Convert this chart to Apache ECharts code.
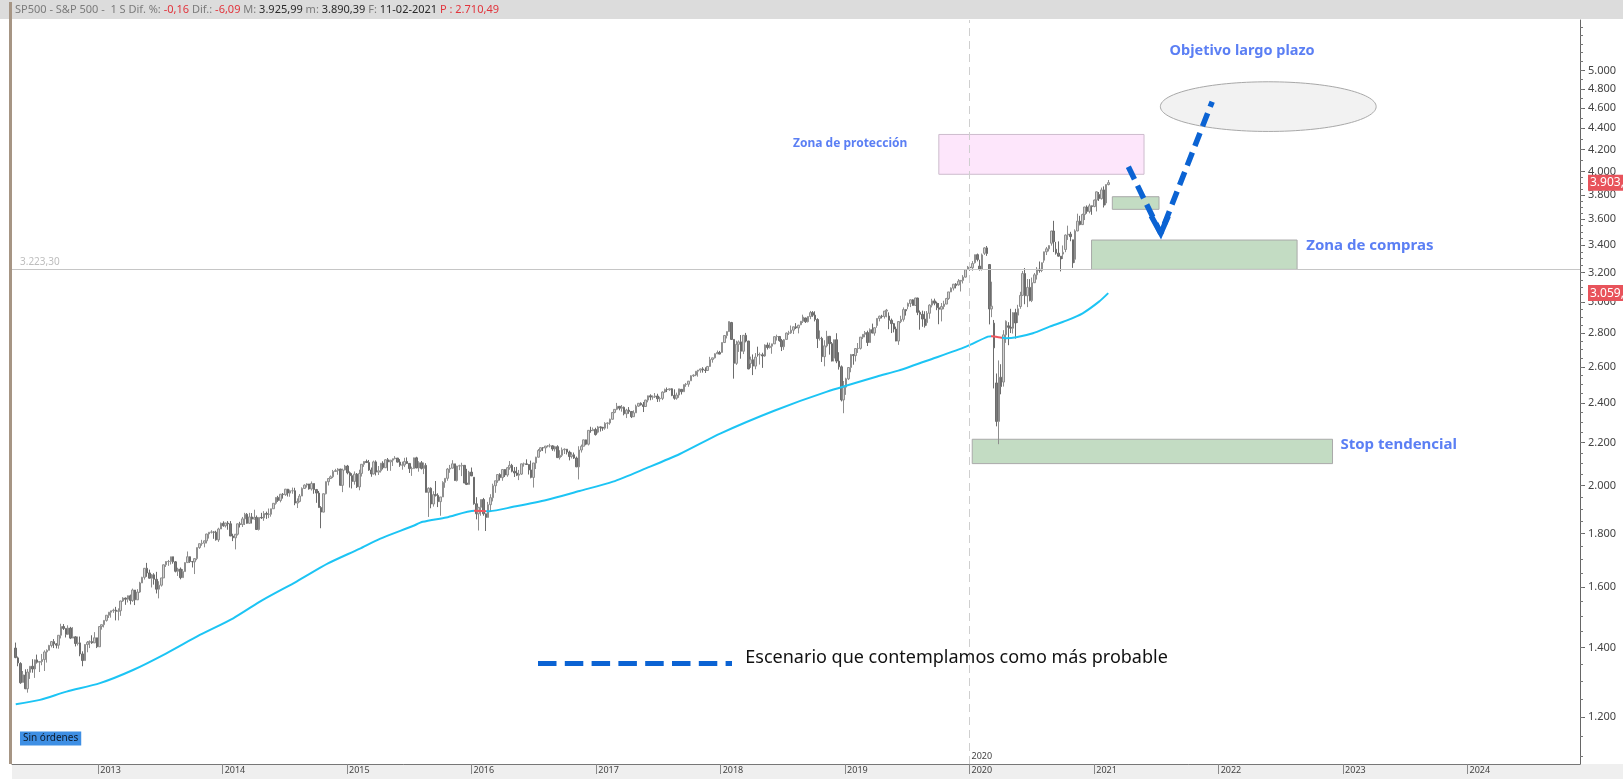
<!DOCTYPE html>
<html>
<head>
<meta charset="utf-8">
<title>SP500 - S&amp;P 500 semanal</title>
<script src="https://cdn.jsdelivr.net/npm/echarts@6/dist/echarts.min.js"></script>
<style>
  html, body { margin: 0; padding: 0; background: #fff; }
  #chart { width: 1623px; height: 779px; }
</style>
</head>
<body>
<div id="chart"></div>
<script>
// velas semanales (1 S), primera vela = semana que cierra el 2012-05-04
const firstWeek = '2012-05-04'

const opens = [
  1398,1368,1351,1296,1317,1278,1325,1343,1335,1362,1355,1357,1363,1386,1391,1406,1418,1411,1407,1438,1466,1460,1441,1461,1429,1433,1412,1414,1380,1360,1409,1416,1418,1414,1430,
  1402,1466,1472,1486,1503,1513,1518,1520,1516,1518,1551,1561,1557,1569,1553,1589,1555,1582,1614,1634,1667,1650,1631,1643,1627,1592,1606,1632,1680,1692,1692,1710,1691,1656,1664,1633,1655,1688,1710,1692,1691,1703,1745,1760,1762,1771,1798,1805,1806,1805,1775,1818,
  1841,1831,1842,1839,1790,1783,1797,1839,1836,1859,1878,1841,1867,1858,1865,1816,1865,1863,1881,1878,1878,1901,1924,1949,1936,1963,1961,1985,1968,1978,1978,1925,1932,1955,1988,2003,2008,1986,2010,1983,1968,1906,1887,1965,2018,2032,2040,2064,2068,2075,2002,2071,
  2089,2058,2045,2019,2052,1995,2055,2097,2110,2105,2071,2053,2108,2061,2067,2102,2081,2118,2108,2116,2123,2126,2107,2093,2094,2110,2101,2077,2077,2127,2080,2104,2078,2092,1971,1989,1921,1961,1958,1931,1951,2015,2033,2075,2079,2099,2023,2089,2090,2092,2012,2006,2061,
  2038,1922,1880,1907,1940,1880,1865,1918,1948,2000,2022,2050,2036,2073,2048,2081,2092,2065,2057,2047,2052,2099,2099,2096,2071,2037,2103,2130,2162,2175,2174,2183,2184,2184,2169,2180,2128,2139,2165,2168,2154,2133,2141,2126,2085,2164,2182,2213,2192,2260,2258,2264,
  2251,2277,2275,2271,2295,2297,2316,2351,2367,2383,2373,2378,2344,2363,2356,2329,2349,2384,2399,2391,2382,2416,2439,2432,2433,2438,2423,2425,2459,2473,2472,2477,2441,2426,2443,2474,2461,2500,2502,2521,2549,2553,2575,2581,2588,2582,2579,2602,2642,2652,2676,2683,
  2684,2743,2786,2810,2867,2762,2620,2732,2747,2691,2787,2752,2619,2641,2604,2671,2670,2670,2663,2728,2713,2721,2735,2779,2780,2755,2718,2762,2801,2802,2819,2840,2833,2853,2875,2896,2872,2905,2930,2914,2886,2767,2768,2659,2723,2781,2736,2650,2760,2633,2600,2417,
  2486,2532,2596,2671,2665,2707,2708,2776,2793,2804,2743,2822,2801,2848,2893,2907,2905,2940,2908,2881,2860,2826,2752,2873,2887,2950,2971,2990,3014,2977,3026,2932,2919,2889,2866,2926,2979,3007,2992,2962,2952,2970,2986,3023,3067,3093,3120,3115,3141,3146,3169,3226,
  3240,3235,3271,3330,3247,3226,3340,3380,3258,2954,2863,2509,2305,2541,2514,2790,2846,2837,2831,2930,2914,2970,3044,3194,3041,3098,3009,3130,3185,3225,3216,3289,3351,3373,3415,3508,3370,3341,3319,3334,3368,3477,3484,3441,3296,3509,3585,3558,3638,3699,3663,3709,3703,
  3756,3803,3768,3841,3732,3887
]
const highs = [
  1415,1372,1355,1329,1334,1335,1343,1364,1363,1378,1357,1380,1391,1394,1408,1420,1426,1413,1438,1475,1474,1460,1470,1465,1464,1435,1434,1434,1388,1410,1420,1422,1438,1448,1430,
  1467,1472,1486,1503,1514,1518,1525,1531,1526,1552,1564,1563,1570,1573,1594,1589,1592,1618,1636,1668,1687,1662,1646,1649,1654,1620,1632,1681,1693,1698,1710,1710,1694,1669,1670,1664,1689,1730,1711,1693,1704,1745,1760,1775,1772,1799,1805,1813,1809,1811,1823,1844,
  1849,1843,1850,1850,1799,1798,1840,1847,1867,1884,1883,1884,1883,1897,1873,1865,1884,1891,1889,1902,1901,1924,1950,1956,1964,1968,1986,1986,1983,1992,1991,1945,1964,1993,2006,2011,2008,2019,2010,1986,1977,1912,1966,2019,2034,2046,2071,2076,2079,2076,2077,2094,
  2094,2064,2056,2064,2057,2072,2097,2111,2119,2117,2082,2114,2115,2089,2103,2111,2120,2126,2117,2123,2135,2126,2121,2109,2127,2129,2101,2086,2128,2132,2111,2112,2105,2102,1993,1993,1976,2021,1967,1951,2020,2034,2080,2094,2116,2099,2090,2095,2104,2093,2076,2067,2082,
  2038,1950,1908,1940,1947,1881,1930,1963,2009,2022,2052,2056,2073,2075,2084,2112,2099,2084,2085,2071,2100,2105,2120,2096,2114,2103,2132,2169,2176,2178,2183,2188,2194,2187,2184,2187,2163,2176,2172,2169,2161,2153,2152,2133,2182,2190,2214,2214,2260,2278,2274,2273,
  2282,2279,2277,2301,2300,2319,2352,2368,2401,2383,2390,2382,2370,2379,2358,2362,2392,2400,2404,2406,2418,2440,2447,2441,2454,2450,2434,2463,2478,2484,2478,2480,2474,2456,2477,2474,2500,2509,2520,2552,2557,2575,2582,2589,2598,2597,2605,2658,2652,2679,2695,2693,
  2744,2787,2811,2873,2871,2764,2754,2756,2789,2787,2802,2753,2659,2672,2680,2718,2683,2682,2732,2743,2742,2736,2780,2791,2780,2765,2764,2804,2815,2848,2841,2863,2852,2876,2917,2898,2906,2941,2940,2939,2894,2817,2778,2757,2815,2782,2746,2761,2800,2685,2608,2520,
  2538,2598,2675,2674,2709,2740,2776,2795,2814,2816,2830,2860,2836,2894,2911,2916,2940,2954,2932,2892,2864,2841,2876,2910,2964,2951,2996,3017,3018,3028,3028,2944,2943,2939,2940,2985,3021,3022,3002,2993,2993,3008,3027,3067,3098,3121,3127,3155,3146,3183,3226,3248,
  3247,3283,3330,3338,3293,3338,3385,3394,3259,3137,2883,2562,2637,2615,2819,2880,2869,2955,2933,2955,2981,3068,3212,3233,3156,3155,3166,3198,3240,3280,3273,3352,3387,3399,3510,3588,3425,3429,3320,3398,3482,3550,3502,3441,3521,3645,3628,3645,3700,3712,3726,3711,3760,
  3827,3823,3861,3871,3887,3926
]
const lows = [
  1367,1343,1292,1296,1277,1267,1306,1324,1309,1351,1326,1346,1329,1354,1391,1400,1398,1397,1396,1428,1455,1431,1439,1426,1429,1403,1406,1373,1343,1360,1385,1398,1411,1414,1398,
  1402,1456,1463,1482,1494,1495,1511,1486,1486,1501,1548,1538,1546,1539,1548,1537,1555,1579,1614,1626,1636,1630,1598,1608,1577,1560,1601,1632,1672,1676,1681,1684,1652,1639,1627,1633,1655,1688,1687,1670,1646,1697,1740,1752,1746,1761,1780,1800,1779,1772,1767,1818,
  1827,1824,1815,1790,1770,1738,1792,1824,1826,1834,1839,1840,1840,1857,1814,1812,1859,1851,1859,1862,1868,1901,1918,1930,1928,1944,1956,1953,1952,1965,1916,1904,1928,1955,1988,1992,1983,1979,1965,1926,1906,1821,1886,1962,2001,2030,2034,2064,2049,2002,1972,2069,
  2051,1992,1988,2005,1990,1980,2041,2085,2103,2067,2040,2050,2046,2048,2059,2073,2080,2067,2067,2089,2120,2105,2085,2072,2084,2099,2057,2044,2077,2079,2063,2073,2052,1971,1867,1903,1910,1953,1908,1872,1951,1991,2022,2058,2077,2022,2019,2070,2043,2012,2003,2005,2043,
  1918,1857,1812,1872,1872,1810,1865,1891,1932,1969,2013,2023,2022,2039,2040,2072,2060,2039,2043,2025,2048,2086,2095,2050,2033,1992,2075,2128,2155,2159,2148,2177,2176,2160,2157,2128,2119,2131,2145,2143,2115,2124,2122,2084,2028,2152,2182,2187,2186,2248,2258,2234,
  2245,2254,2258,2263,2268,2288,2314,2347,2363,2362,2355,2336,2322,2344,2322,2328,2349,2380,2387,2353,2382,2404,2415,2418,2427,2406,2407,2416,2455,2459,2466,2437,2418,2418,2428,2446,2461,2488,2488,2521,2542,2547,2544,2566,2567,2565,2576,2600,2624,2648,2676,2673,
  2683,2740,2768,2808,2759,2533,2611,2687,2647,2674,2744,2586,2594,2553,2586,2659,2613,2594,2658,2701,2707,2676,2734,2755,2748,2692,2699,2762,2789,2796,2795,2826,2799,2850,2864,2864,2867,2888,2903,2874,2710,2755,2628,2603,2714,2671,2631,2631,2621,2584,2409,2347,
  2444,2525,2569,2612,2631,2681,2701,2764,2775,2722,2743,2800,2785,2834,2874,2893,2892,2900,2825,2801,2805,2751,2729,2863,2873,2911,2952,2966,2976,2975,2914,2822,2840,2835,2847,2891,2964,2978,2946,2856,2874,2952,2985,3014,3066,3077,3091,3110,3070,3125,3166,3221,
  3214,3214,3265,3281,3215,3215,3328,3321,2855,2901,2479,2280,2192,2447,2489,2741,2727,2801,2798,2767,2864,2955,3039,2985,2966,3004,2999,3128,3152,3200,3204,3271,3327,3354,3397,3349,3330,3316,3209,3298,3348,3440,3430,3234,3270,3506,3552,3555,3594,3645,3648,3636,3697,
  3663,3749,3760,3695,3714,3880
]
const closes = [
  1369,1353,1295,1318,1278,1326,1343,1335,1362,1355,1357,1363,1386,1391,1406,1418,1411,1407,1438,1466,1460,1441,1461,1429,1433,1412,1414,1380,1360,1409,1416,1418,1414,1430,1402,
  1466,1472,1486,1503,1513,1518,1520,1516,1518,1551,1561,1557,1569,1553,1589,1555,1582,1614,1634,1667,1650,1631,1643,1627,1592,1606,1632,1680,1692,1692,1710,1691,1656,1664,1633,1655,1688,1710,1692,1691,1703,1745,1760,1762,1771,1798,1805,1806,1805,1775,1818,1841,
  1831,1842,1839,1790,1783,1797,1839,1836,1859,1878,1841,1867,1858,1865,1816,1865,1863,1881,1878,1878,1901,1924,1949,1936,1963,1961,1985,1968,1978,1978,1925,1932,1955,1988,2003,2008,1986,2010,1983,1968,1906,1887,1965,2018,2032,2040,2064,2068,2075,2002,2071,2089,
  2058,2045,2019,2052,1995,2055,2097,2110,2105,2071,2053,2108,2061,2067,2102,2081,2118,2108,2116,2123,2126,2107,2093,2094,2110,2101,2077,2077,2127,2080,2104,2078,2092,1971,1989,1921,1961,1958,1931,1951,2015,2033,2075,2079,2099,2023,2089,2090,2092,2012,2006,2061,2044,
  1922,1880,1907,1940,1880,1865,1918,1948,2000,2022,2050,2036,2073,2048,2081,2092,2065,2057,2047,2052,2099,2099,2096,2071,2037,2103,2130,2162,2175,2174,2183,2184,2184,2169,2180,2128,2139,2165,2168,2154,2133,2141,2126,2085,2164,2182,2213,2192,2260,2258,2264,2239,
  2277,2275,2271,2295,2297,2316,2351,2367,2383,2373,2378,2344,2363,2356,2329,2349,2384,2399,2391,2382,2416,2439,2432,2433,2438,2423,2425,2459,2473,2472,2477,2441,2426,2443,2477,2461,2500,2502,2519,2549,2553,2575,2581,2588,2582,2579,2602,2642,2652,2676,2683,2674,
  2743,2786,2810,2873,2762,2620,2732,2747,2691,2787,2752,2588,2641,2604,2656,2670,2670,2663,2728,2713,2721,2735,2779,2780,2755,2718,2760,2801,2802,2819,2840,2833,2850,2875,2902,2872,2905,2930,2914,2886,2767,2768,2659,2723,2781,2736,2633,2760,2633,2600,2417,2486,
  2532,2596,2671,2665,2707,2708,2776,2793,2804,2743,2822,2801,2834,2893,2907,2905,2940,2946,2881,2860,2826,2752,2873,2887,2950,2942,2990,3014,2977,3026,2932,2919,2889,2847,2926,2979,3007,2992,2962,2952,2970,2986,3023,3067,3093,3120,3110,3141,3146,3169,3221,3240,
  3235,3265,3330,3295,3226,3328,3380,3338,2954,2972,2711,2305,2541,2489,2790,2875,2837,2831,2930,2864,2955,3044,3194,3041,3098,3009,3130,3185,3225,3216,3271,3351,3373,3397,3508,3427,3341,3319,3298,3348,3477,3484,3465,3270,3509,3585,3558,3638,3699,3663,3709,3703,3756,
  3825,3768,3841,3714,3887,3903
]

// media móvil (línea celeste)
const maDates = ['2012-05-04','2012-07-14','2012-09-30','2013-01-06','2013-04-13','2013-07-20','2013-10-26','2014-02-01','2014-04-29','2014-08-07','2014-11-06','2015-02-06','2015-04-07','2015-07-13','2015-08-11','2015-10-19','2016-01-10','2016-02-23','2016-05-02','2016-08-08','2016-11-13','2017-02-19','2017-05-28','2017-09-03','2018-01-01','2018-06-07','2018-11-07','2019-04-05','2019-06-06','2019-09-11','2019-12-22','2020-02-24','2020-03-06','2020-04-04','2020-04-18','2020-05-17','2020-07-05','2020-08-23','2020-10-11','2020-11-28','2021-01-15','2021-02-11']
const maValues = [1235,1247,1270,1294,1332,1382,1439,1493,1555,1620,1685,1740,1779,1830,1847,1865,1893,1891,1909,1938,1977,2018,2079,2145,2245,2360,2460,2545,2578,2644,2718,2779,2781,2772,2769,2775,2800,2841,2879,2926,3002,3059]
// tramos en rojo de la media
const maRedFrom = ['2016-01-09', '2020-03-05']
const maRedTo = ['2016-02-12', '2020-04-04']

// zonas: protección, compras (corto), compras, stop tendencial
const zoneFrom = ['2019-10-03', '2021-02-23', '2020-12-24', '2020-01-09']
const zoneTo = ['2021-05-27', '2021-07-10', '2022-08-19', '2022-12-01']
const zoneHigh = [4341, 3784, 3439, 2216]
const zoneLow = [3976, 3680, 3223.3, 2100]

// objetivo largo plazo (elipse): esquinas de la caja que la contiene
const targetDates = ['2021-07-14', '2023-04-08']
const targetPrices = [4876, 4370]

// escenario más probable (flecha discontinua)
const scenarioDates = ['2021-04-11', '2021-07-15', '2021-12-13']
const scenarioPrices = [4043, 3490, 4667]
const arrowDates = ['2021-06-17', '2021-07-15', '2021-08-06']
const arrowPrices = [3626, 3490, 3626]

const refLevel = 3223.30
const yTicks = [1200,1400,1600,1800,2000,2200,2400,2600,2800,3000,3200,3400,3600,3800,4000,4200,4400,4600,4800,5000]
const yearTicks = ['2013-01-01','2014-01-01','2015-01-01','2016-01-01','2017-01-01','2018-01-01','2019-01-01','2020-01-01','2021-01-01','2022-01-01','2023-01-01','2024-01-01']

const FONT = '"Noto Sans", "DejaVu Sans", sans-serif'
const ts = s => new Date(s + 'T00:00:00').getTime()
const fmtEs = v => {
  const s = String(Math.round(v))
  return s.length > 3 ? s.slice(0, -3) + '.' + s.slice(-3) : s
}

const weekDates = closes.map((_, i) => {
  const d = new Date(firstWeek + 'T00:00:00')
  d.setDate(d.getDate() + 7 * i)
  return d.getTime()
})
const candles = weekDates.map((t, i) => [t, opens[i], closes[i], lows[i], highs[i]])
const maData = maDates.map((d, i) => [ts(d), maValues[i]])

const minorTicks = []
for (let v = 1100; v <= 5500; v += (v < 4000 ? 50 : 100)) minorTicks.push(v)

const lastClose = closes[closes.length - 1]
const lastMa = maValues[maValues.length - 1]

const priceTag = {
  show: true, position: 'end', distance: 8, color: '#fff', opacity: 1, fontSize: 12, fontFamily: FONT,
  backgroundColor: '#e8535b', padding: [2, 20, 2, 2]
}
const noLine = { color: 'rgba(0,0,0,0)', width: 0 }
const blueText = '#5b7ff4'

const chart = echarts.init(document.getElementById('chart'))
chart.setOption({
  animation: false,
  backgroundColor: '#fff',
  grid: { left: 12, right: 43, top: 20, bottom: 15, outerBoundsMode: 'none' },
  // eje de fechas como valor (milisegundos), etiquetas por año
  xAxis: {
    type: 'value',
    min: ts('2012-04-23'),
    max: ts('2024-11-26'),
    axisLine: { lineStyle: { color: '#777', width: 1 } },
    axisTick: { show: true, length: 10, customValues: yearTicks.map(ts), lineStyle: { color: '#888' } },
    axisLabel: {
      customValues: yearTicks.map(ts),
      formatter: v => String(new Date(v).getFullYear()),
      align: 'left', margin: 2, padding: [0, 0, 0, 2],
      color: '#444', fontSize: 9, fontFamily: FONT
    },
    splitLine: { show: false }
  },
  yAxis: [{
    type: 'log',
    position: 'right',
    min: 1082.5,
    max: 5588,
    axisLine: { show: true, lineStyle: { color: '#666' } },
    axisTick: { show: true, length: 5, customValues: yTicks, lineStyle: { color: '#666' } },
    axisLabel: { customValues: yTicks, formatter: fmtEs, color: '#444', fontSize: 11, margin: 8, fontFamily: FONT },
    splitLine: { show: false }
  }, {
    type: 'log',
    position: 'right',
    min: 1082.5,
    max: 5588,
    axisLine: { show: false },
    axisTick: { show: true, length: 3, customValues: minorTicks, lineStyle: { color: '#777' } },
    axisLabel: { show: false },
    splitLine: { show: false }
  }],
  visualMap: {
    type: 'piecewise',
    show: false,
    seriesIndex: 1,
    dimension: 0,
    pieces: maRedFrom.map((d, i) => ({ gte: ts(d), lte: ts(maRedTo[i]), color: '#f0555e' })),
    outOfRange: { color: '#1cc4f4' }
  },
  series: [
    {
      type: 'custom',
      name: 'Objetivo largo plazo',
      z: 1,
      data: targetDates.map((d, i) => [ts(d), targetPrices[i]]),
      renderItem: (params, api) => {
        if (params.dataIndexInside !== 0) return null
        const a = api.coord([api.value(0, 0), api.value(1, 0)])
        const b = api.coord([api.value(0, 1), api.value(1, 1)])
        return {
          type: 'ellipse',
          shape: { cx: (a[0] + b[0]) / 2, cy: (a[1] + b[1]) / 2, rx: Math.abs(b[0] - a[0]) / 2, ry: Math.abs(b[1] - a[1]) / 2 },
          style: { fill: '#f2f2f2', stroke: '#a8a8a8', lineWidth: 1 }
        }
      }
    },
    {
      type: 'line',
      name: 'Media',
      data: maData,
      symbol: 'none',
      smooth: 0.25,
      clip: false,
      z: 3,
      lineStyle: { width: 2 },
      markLine: {
        silent: true,
        symbol: 'none',
        data: [
          {
            yAxis: refLevel,
            lineStyle: { color: '#c6c6c6', width: 1, type: 'solid' },
            label: { show: true, position: 'insideStartTop', distance: [8, 2], formatter: '3.223,30', color: '#bdbdbd', fontSize: 10, fontFamily: FONT }
          },
          {
            xAxis: ts('2020-01-01'),
            lineStyle: { color: '#cfcfcf', width: 1, type: [8, 5] },
            label: { show: false }
          },
          { yAxis: lastClose, lineStyle: noLine, label: Object.assign({ formatter: fmtEs(lastClose) + ',' }, priceTag) },
          { yAxis: lastMa, lineStyle: noLine, label: Object.assign({ formatter: fmtEs(lastMa) + ',' }, priceTag) }
        ]
      },
      markPoint: {
        silent: true,
        symbol: 'circle',
        symbolSize: 0,
        data: [{ coord: [ts('2020-01-01'), 1100], label: { show: true, position: 'right', distance: 2, formatter: '2020', color: '#444', fontSize: 9, fontFamily: FONT } }]
      }
    },
    {
      type: 'candlestick',
      name: 'SP500',
      data: candles,
      barWidth: 2,
      z: 2,
      itemStyle: { color: '#d2d2d2', color0: '#7a7a7a', borderColor: '#8e8e8e', borderColor0: '#6c6c6c', borderWidth: 1 }
    },
    {
      type: 'line',
      name: 'Zonas',
      data: [],
      z: 1,
      markArea: {
        silent: true,
        data: zoneFrom.map((d, i) => [
          { xAxis: ts(d), yAxis: zoneHigh[i], itemStyle: { color: i === 0 ? '#fde6fb' : '#c3dcc3', borderColor: i === 0 ? '#cdbccd' : '#a9a9a9', borderWidth: 1 } },
          { xAxis: ts(zoneTo[i]), yAxis: zoneLow[i] }
        ])
      }
    },
    {
      type: 'line',
      name: 'Escenario',
      data: scenarioDates.map((d, i) => [ts(d), scenarioPrices[i]]),
      symbol: 'none',
      z: 6,
      lineStyle: { color: '#0b63d3', width: 5.5, type: [14, 7], cap: 'butt' }
    },
    {
      type: 'line',
      name: 'Flecha',
      data: arrowDates.map((d, i) => [ts(d), arrowPrices[i]]),
      symbol: 'none',
      z: 6,
      lineStyle: { color: '#0b63d3', width: 5.5, type: 'solid', join: 'miter' }
    }
  ],
  graphic: {
    elements: [
      { type: 'rect', z: -1, silent: true, shape: { x: 0, y: 0, width: 1623, height: 19 }, style: { fill: '#dcdcdc' } },
      { type: 'rect', z: -1, silent: true, shape: { x: 12, y: 764, width: 1611, height: 15 }, style: { fill: '#efefef' } },
      { type: 'rect', z: 10, silent: true, shape: { x: 9, y: 2, width: 3, height: 762 }, style: { fill: '#a69584' } },
      {
        type: 'text', z: 10, silent: true, x: 15, y: 10,
        style: {
          text: '{g|SP500 - S&P 500 -  1 S Dif. %: }{r|-0,16} {g|Dif.: }{r|-6,09} {g|M: }{k|3.925,99} {g|m: }{k|3.890,39} {g|F: }{k|11-02-2021} {r|P : 2.710,49}',
          verticalAlign: 'middle', font: '11px ' + FONT,
          rich: {
            g: { fill: '#7b7b7b', fontSize: 11, fontFamily: FONT },
            r: { fill: '#e2343c', fontSize: 11, fontFamily: FONT },
            k: { fill: '#2a2a2a', fontSize: 11, fontFamily: FONT }
          }
        }
      },
      {
        type: 'text', z: 10, silent: true, x: 20, y: 738.5,
        style: { text: 'Sin órdenes', fill: '#0e1a2a', font: '10px ' + FONT, verticalAlign: 'middle', backgroundColor: '#3e8fe4', padding: [2, 3, 2, 3] }
      },
      { type: 'text', z: 10, silent: true, x: 1169.6, y: 50.7, style: { text: 'Objetivo largo plazo', fill: blueText, font: 'bold 14.5px ' + FONT, verticalAlign: 'middle' } },
      { type: 'text', z: 10, silent: true, x: 793, y: 143.9, style: { text: 'Zona de protección', fill: blueText, font: 'bold 12px ' + FONT, verticalAlign: 'middle' } },
      { type: 'text', z: 10, silent: true, x: 1306.3, y: 245.3, style: { text: 'Zona de compras', fill: blueText, font: 'bold 15px ' + FONT, verticalAlign: 'middle' } },
      { type: 'text', z: 10, silent: true, x: 1340.4, y: 445, style: { text: 'Stop tendencial', fill: blueText, font: 'bold 15px ' + FONT, verticalAlign: 'middle' } },
      {
        type: 'line', z: 10, silent: true,
        shape: { x1: 538, y1: 663.5, x2: 732, y2: 663.5 },
        style: { stroke: '#0b63d3', lineWidth: 5, lineDash: [18.5, 8.3] }
      },
      { type: 'text', z: 10, silent: true, x: 745.3, y: 658.3, style: { text: 'Escenario que contemplamos como más probable', fill: '#111', font: '18px ' + FONT, verticalAlign: 'middle' } }
    ]
  }
})
</script>
</body>
</html>
